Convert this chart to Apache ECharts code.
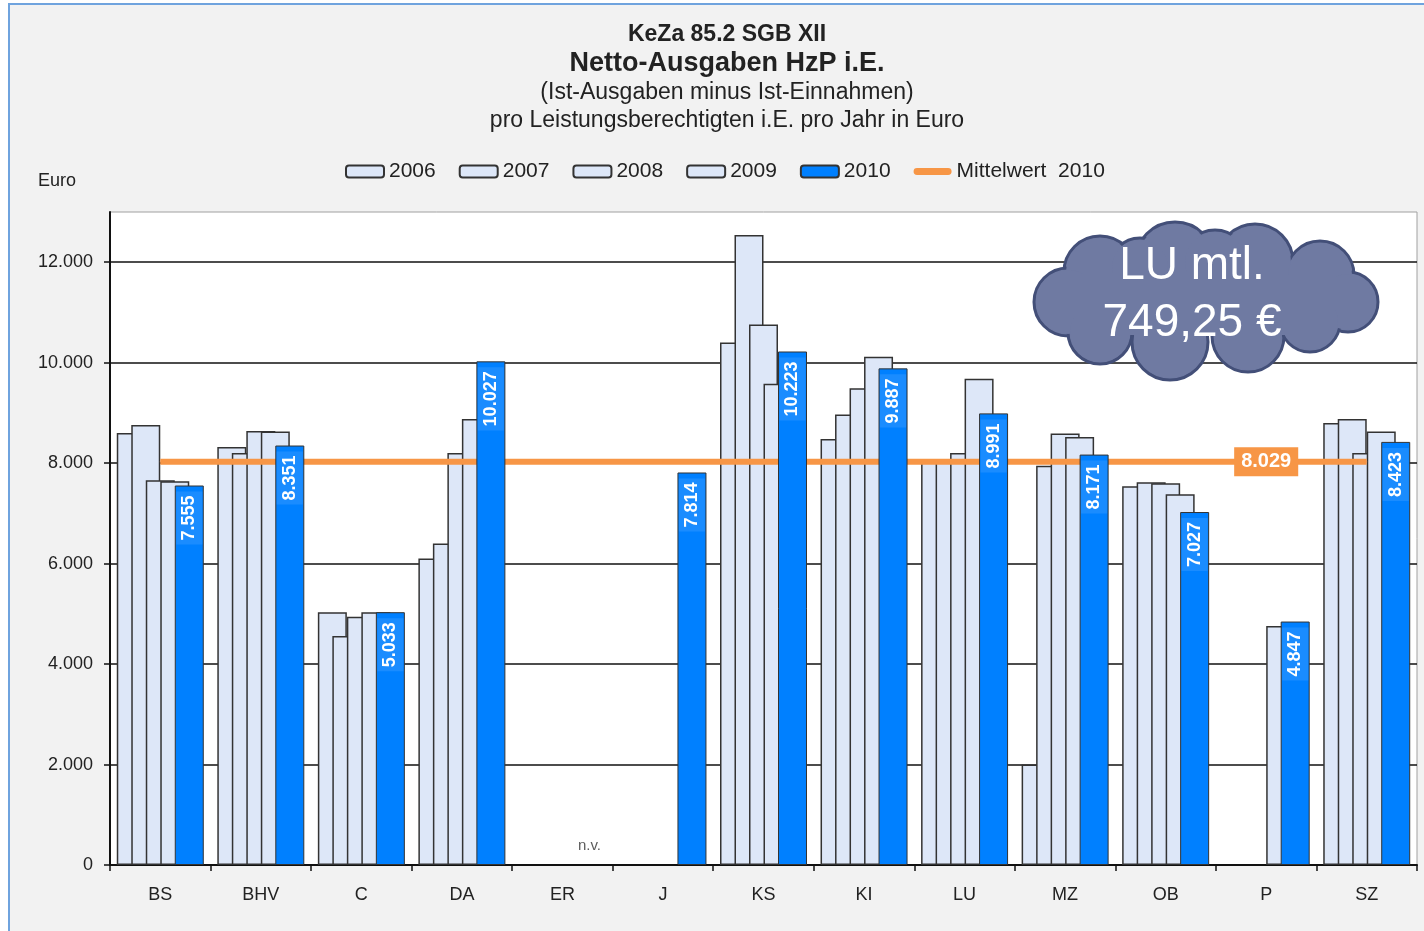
<!DOCTYPE html>
<html>
<head>
<meta charset="utf-8">
<script src="https://cdn.jsdelivr.net/npm/echarts@6/dist/echarts.min.js"></script>
<style>
  html, body { margin: 0; padding: 0; background: #fff; }
  #frame {
    position: absolute; left: 8px; top: 3px;
    width: 1414px; height: 926px;
    background: #f2f2f2;
    border-top: 2px solid #6fa3de;
    border-left: 2px solid #6fa3de;
  }
  #chart { width: 1414px; height: 926px; }
</style>
</head>
<body>
<div id="frame"><div id="chart"></div></div>
<script>
// Kategorien (Kommunen) und Werte je Jahr
const categories = ['BS', 'BHV', 'C', 'DA', 'ER', 'J', 'KS', 'KI', 'LU', 'MZ', 'OB', 'P', 'SZ']
const v2006 = [8600, 8320, 5030, 6100, null, null, 10400, 8480, 8050, 2000, 7540, null, 8800]
const v2007 = [8760, 8200, 4560, 6400, null, null, 12540, 8970, 8040, 7950, 7620, null, 8880]
const v2008 = [7660, 8640, 4940, 8200, null, null, 10760, 9490, 8200, 8590, 7600, null, 8200]
const v2009 = [7640, 8630, 5030, 8880, null, null, 9580, 10120, 9680, 8520, 7380, 4760, 8630]
const v2010 = [7555, 8351, 5033, 10027, null, 7814, 10223, 9887, 8991, 8171, 7027, 4847, 8423]
const mean2010 = 8029
const meanLabelAt = 'P'
const missingAt = 'ER'
const yTicks = { min: 0, max: 13000, interval: 2000 }

const FONT = 'Liberation Sans, Arial, sans-serif'

// deutsche Tausenderpunkte
const fmt = (v) => String(v).replace(/\B(?=(\d{3})+(?!\d))/g, '.')

const lightBar = (name, data) => ({
  name,
  type: 'bar',
  data,
  barWidth: 29,
  barGap: '-50%',
  z: 2,
  itemStyle: { color: '#dde7f8', borderColor: '#333', borderWidth: 1.5 }
})

const meanData = categories.map((c) =>
  c === meanLabelAt
    ? {
        value: mean2010,
        label: {
          show: true,
          position: 'inside',
          formatter: (p) => fmt(p.value),
          color: '#fff',
          fontSize: 20,
          fontWeight: 'bold',
          fontFamily: FONT,
          backgroundColor: '#f79646',
          padding: [5, 7, 4, 7]
        }
      }
    : mean2010
)

const nvData = categories.map((c) => (c === missingAt ? 0 : '-'))

// Wolke oben rechts (Seitenkoordinaten)
const cloudBumps = [
  [1100, 272, 36], [1175, 262, 40], [1255, 262, 38], [1320, 275, 34],
  [1348, 302, 30], [1068, 302, 34], [1100, 332, 32], [1170, 342, 38],
  [1248, 336, 36], [1310, 322, 30], [1140, 268, 30], [1215, 262, 32]
]
const cloudFill = '#6f7aa2'
const cloudStroke = '#434f78'
const cloudChildren = [
  ...cloudBumps.map(([cx, cy, r]) => ({
    type: 'circle', shape: { cx, cy, r }, z: 10,
    style: { fill: cloudFill, stroke: cloudStroke, lineWidth: 3 }
  })),
  ...cloudBumps.map(([cx, cy, r]) => ({
    type: 'circle', shape: { cx, cy, r: r - 2 }, z: 11,
    style: { fill: cloudFill }
  })),
  { type: 'rect', shape: { x: 1075, y: 275, width: 260, height: 60 }, z: 11, style: { fill: cloudFill } },
  { type: 'text', x: 1192, y: 266, z: 12,
    style: { text: 'LU mtl.', fill: '#fff', font: '46px ' + FONT, textAlign: 'center', textVerticalAlign: 'middle' } },
  { type: 'text', x: 1192, y: 323, z: 12,
    style: { text: '749,25 €', fill: '#fff', font: '46px ' + FONT, textAlign: 'center', textVerticalAlign: 'middle' } }
]

const titleLine = (text, y, font) => ({
  type: 'text', x: 717, y,
  style: { text, fill: '#222', font, textAlign: 'center', textVerticalAlign: 'middle' }
})

const chart = echarts.init(document.getElementById('chart'))
chart.setOption({
  animation: false,
  textStyle: { fontFamily: FONT },
  graphic: [
    titleLine('KeZa 85.2 SGB XII', 30, 'bold 23px ' + FONT),
    titleLine('Netto-Ausgaben HzP i.E.', 59, 'bold 27px ' + FONT),
    titleLine('(Ist-Ausgaben minus Ist-Einnahmen)', 88, '23px ' + FONT),
    titleLine('pro Leistungsberechtigten i.E. pro Jahr in Euro', 116, '23px ' + FONT),
    {
      type: 'text', x: 28, y: 176,
      style: { text: 'Euro', fill: '#222', font: '18px ' + FONT, textVerticalAlign: 'middle' }
    },
    { type: 'group', x: -10, y: -5, children: cloudChildren }
  ],
  legend: {
    left: 330,
    top: 151,
    itemWidth: 38,
    itemHeight: 12,
    itemGap: 23,
    textStyle: { fontSize: 21, color: '#222', fontFamily: FONT },
    data: [
      '2006', '2007', '2008', '2009', '2010',
      { name: 'Mittelwert  2010', icon: 'path://M4,0 H40 A4,4 0 0 1 40,8 H4 A4,4 0 0 1 4,0 Z' }
    ]
  },
  grid: {
    left: 100,
    right: 7,
    top: 207,
    bottom: 66,
    show: true,
    backgroundColor: '#fff',
    borderColor: '#a0a0a0',
    borderWidth: 1
  },
  xAxis: {
    type: 'category',
    data: categories,
    axisLine: { lineStyle: { color: '#111', width: 2 } },
    axisTick: { show: true, length: 6, lineStyle: { color: '#111', width: 1.5 } },
    axisLabel: { fontSize: 18, color: '#222', margin: 21 }
  },
  yAxis: {
    type: 'value',
    min: yTicks.min,
    max: yTicks.max,
    interval: yTicks.interval,
    axisLine: { show: true, lineStyle: { color: '#111', width: 2 } },
    axisTick: { show: true, length: 6, lineStyle: { color: '#111', width: 1.5 } },
    axisLabel: { formatter: fmt, fontSize: 18, color: '#222', margin: 17, showMaxLabel: false },
    splitLine: { show: true, showMaxLine: false, lineStyle: { color: '#111', width: 1.5 } }
  },
  series: [
    lightBar('2006', v2006),
    lightBar('2007', v2007),
    lightBar('2008', v2008),
    lightBar('2009', v2009),
    {
      name: '2010',
      type: 'bar',
      data: v2010,
      barWidth: 29,
      barGap: '-50%',
      z: 4,
      itemStyle: { color: '#0080ff', borderColor: '#333', borderWidth: 1 },
      label: {
        show: true,
        position: 'insideTop',
        rotate: 90,
        align: 'right',
        verticalAlign: 'middle',
        distance: 6,
        color: '#fff',
        fontSize: 18,
        fontWeight: 'bold',
        fontFamily: FONT,
        backgroundColor: '#1a8cff',
        padding: [5, 4, 3, 4],
        formatter: (p) => fmt(p.value)
      }
    },
    {
      name: 'Mittelwert  2010',
      type: 'line',
      data: meanData,
      z: 3,
      symbol: 'circle',
      symbolSize: 1,
      lineStyle: { color: '#f79646', width: 6 },
      itemStyle: { color: '#f79646' }
    },
    {
      type: 'scatter',
      data: nvData,
      symbolSize: 0,
      silent: true,
      label: {
        show: true, position: 'top', distance: 12, offset: [27, 0],
        formatter: 'n.v.', color: '#333', fontSize: 15
      }
    }
  ]
})
</script>
</body>
</html>
